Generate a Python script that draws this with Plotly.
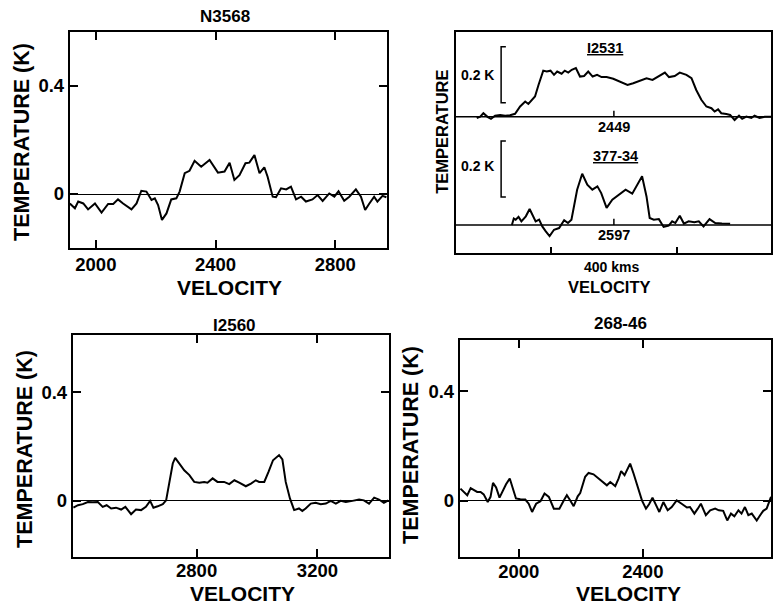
import plotly.graph_objects as go

FONT = "Liberation Sans"

# ---------------- data ----------------
# Panel N3568
n3568_v = [1913, 1930, 1941, 1958, 1974, 1997, 2019, 2041, 2058, 2074, 2091, 2119, 2136, 2152,
           2169, 2186, 2197, 2208, 2221, 2236, 2252, 2269, 2280, 2297, 2313, 2330, 2352, 2380,
           2408, 2430, 2447, 2463, 2480, 2500, 2513, 2530, 2547, 2563, 2574, 2591, 2602, 2619,
           2636, 2652, 2669, 2686, 2702, 2724, 2741, 2758, 2780, 2797, 2811, 2830, 2847, 2869,
           2886, 2900, 2913, 2930, 2941, 2958, 2971]
n3568_t = [-0.035, -0.053, -0.028, -0.035, -0.057, -0.035, -0.069, -0.037, -0.037, -0.020,
           -0.035, -0.057, -0.035, 0.012, 0.009, -0.022, -0.016, -0.041, -0.096, -0.072,
           -0.020, -0.016, 0.009, 0.077, 0.086, 0.123, 0.101, 0.126, 0.079, 0.083, 0.116,
           0.052, 0.070, 0.114, 0.116, 0.144, 0.077, 0.099, 0.064, -0.010, -0.012, 0.021,
           0.017, 0.027, -0.020, -0.010, -0.028, -0.020, -0.004, -0.026, 0.002, -0.010,
           0.010, -0.025, -0.010, 0.017, -0.010, -0.059, -0.037, -0.010, -0.028, -0.007, -0.012]

# Panel I2531 (systemic 2449)
i2531_vsys = 2449
i2531_v = [2016, 2027, 2037, 2050, 2061, 2074, 2090, 2106, 2121, 2137, 2153, 2169, 2179, 2190,
           2200, 2211, 2226, 2237, 2249, 2260, 2270, 2284, 2294, 2305, 2316, 2329, 2342, 2355,
           2368, 2382, 2396, 2410, 2426, 2447, 2468, 2492, 2510, 2526, 2552, 2571, 2589, 2610,
           2623, 2641, 2657, 2678, 2694, 2709, 2725, 2741, 2757, 2767, 2778, 2788, 2804, 2816,
           2830, 2844, 2854, 2867, 2883, 2893, 2909, 2925, 2949]
i2531_t = [-0.004, 0.001, 0.013, 0.000, -0.007, 0.004, 0.007, 0.004, 0.006, 0.011, 0.037,
           0.055, 0.046, 0.061, 0.073, 0.114, 0.165, 0.162, 0.165, 0.150, 0.162, 0.154, 0.165,
           0.158, 0.168, 0.174, 0.144, 0.146, 0.162, 0.144, 0.150, 0.142, 0.142, 0.136, 0.126,
           0.114, 0.120, 0.126, 0.138, 0.132, 0.144, 0.158, 0.142, 0.146, 0.158, 0.150, 0.138,
           0.096, 0.061, 0.037, 0.031, 0.019, 0.027, 0.013, 0.010, 0.007, -0.011, 0.004, -0.007,
           0.001, -0.004, 0.004, -0.004, 0.000, 0.000]

# Panel 377-34 (systemic 2597)
e377_vsys = 2597
e377_v = [2275, 2281, 2287, 2296, 2305, 2319, 2331, 2342, 2350, 2361, 2371, 2382, 2394, 2408,
          2424, 2440, 2452, 2463, 2481, 2497, 2513, 2529, 2545, 2557, 2574, 2592, 2613, 2634,
          2655, 2670, 2686, 2700, 2710, 2723, 2739, 2754, 2770, 2781, 2791, 2805, 2818, 2833,
          2851, 2865, 2880, 2899, 2917, 2938, 2964]
e377_t = [0.000, 0.023, 0.019, 0.029, 0.013, 0.031, 0.057, 0.031, 0.013, 0.019, -0.005, -0.023,
          -0.040, -0.017, -0.011, 0.017, 0.007, 0.019, 0.126, 0.183, 0.144, 0.126, 0.138, 0.114,
          0.061, 0.090, 0.108, 0.126, 0.112, 0.144, 0.174, 0.102, 0.025, 0.019, 0.021, -0.007,
          -0.002, 0.013, 0.007, 0.033, 0.005, 0.013, 0.010, 0.013, -0.005, 0.021, 0.007, 0.005,
          0.004]

# Panel I2560
i2560_v = [2392, 2407, 2423, 2440, 2456, 2473, 2489, 2502, 2517, 2533, 2550, 2564, 2583, 2599,
           2616, 2632, 2646, 2657, 2671, 2688, 2699, 2710, 2721, 2729, 2743, 2759, 2776, 2792,
           2809, 2825, 2836, 2853, 2869, 2891, 2908, 2925, 2941, 2963, 2980, 2996, 3007, 3024,
           3038, 3053, 3073, 3084, 3095, 3109, 3123, 3139, 3150, 3161, 3178, 3194, 3211, 3228,
           3244, 3261, 3277, 3294, 3316, 3338, 3354, 3371, 3388, 3404, 3420, 3435]
i2560_t = [-0.025, -0.016, -0.012, -0.004, -0.005, -0.004, -0.022, -0.016, -0.028, -0.025,
           -0.032, -0.022, -0.049, -0.032, -0.034, -0.022, 0.000, -0.025, -0.020, -0.012,
           0.002, 0.070, 0.138, 0.159, 0.138, 0.113, 0.095, 0.070, 0.067, 0.070, 0.067, 0.083,
           0.070, 0.070, 0.062, 0.076, 0.067, 0.054, 0.064, 0.076, 0.070, 0.070, 0.107, 0.150,
           0.169, 0.153, 0.070, 0.009, -0.034, -0.028, -0.037, -0.028, -0.010, -0.007, -0.012,
           -0.010, 0.000, -0.010, 0.000, -0.004, 0.000, 0.005, 0.002, -0.010, 0.012, 0.005,
           -0.007, 0.002]

# Panel 268-46
e268_v = [1812, 1823, 1834, 1845, 1855, 1866, 1877, 1887, 1900, 1909, 1917, 1927, 1938, 1949,
          1959, 1971, 1984, 1991, 2005, 2021, 2032, 2043, 2056, 2070, 2083, 2097, 2113, 2131,
          2145, 2155, 2166, 2177, 2190, 2198, 2214, 2225, 2241, 2257, 2273, 2284, 2295, 2311,
          2322, 2330, 2341, 2349, 2359, 2370, 2384, 2397, 2410, 2420, 2431, 2442, 2453, 2466,
          2480, 2493, 2509, 2525, 2542, 2552, 2566, 2577, 2587, 2603, 2617, 2633, 2645, 2659,
          2672, 2684, 2695, 2708, 2718, 2729, 2740, 2751, 2767, 2778, 2788, 2799, 2813]
e268_t = [0.045, 0.033, 0.021, 0.047, 0.041, 0.033, 0.033, 0.024, -0.004, 0.015, 0.066, 0.049,
          0.012, 0.039, 0.061, 0.082, 0.039, 0.009, 0.006, 0.005, -0.010, -0.040, -0.010,
          -0.001, 0.027, 0.015, -0.028, -0.028, 0.002, 0.021, 0.002, -0.019, 0.017, 0.029,
          0.088, 0.102, 0.097, 0.082, 0.066, 0.057, 0.069, 0.054, 0.082, 0.109, 0.094, 0.114,
          0.136, 0.100, 0.051, 0.002, -0.028, -0.012, 0.012, -0.016, -0.040, -0.004, -0.034,
          -0.022, 0.002, -0.010, -0.024, -0.022, -0.046, -0.028, -0.010, -0.052, -0.034,
          -0.028, -0.034, -0.036, -0.071, -0.046, -0.056, -0.034, -0.046, -0.022, -0.052,
          -0.046, -0.071, -0.052, -0.036, -0.028, 0.015]

# tick labels
p1_xticks = [2000, 2400, 2800]
p3_xticks = [2800, 3200]
p4_xticks = [2000, 2400]
y_ticks = [0, 0.4]
y_ticktext = ["0", "0.4"]
p2_ticks = [-200, 200]          # 400 km/s apart
p2_offset = 0.386               # vertical offset of the upper spectrum (K)

W, H = 773, 604


def px_x(a, b):
    return [a / W, b / W]


def px_y(top, bottom):
    return [1 - bottom / H, 1 - top / H]


def axis(**kw):
    d = dict(showline=True, linecolor="black", linewidth=2, mirror="allticks",
             ticks="inside", ticklen=8, tickwidth=1.5, tickcolor="black",
             showgrid=False, zeroline=False, fixedrange=True,
             tickfont=dict(family=FONT, size=18.5, color="black", weight="bold"))
    d.update(kw)
    return d


LINE = dict(color="black", width=2)

fig = go.Figure()
fig.add_trace(go.Scatter(x=n3568_v, y=n3568_t, mode="lines", line=LINE,
                         xaxis="x", yaxis="y", showlegend=False))
fig.add_trace(go.Scatter(x=[v - i2531_vsys for v in i2531_v],
                         y=[t + p2_offset for t in i2531_t], mode="lines", line=LINE,
                         xaxis="x2", yaxis="y2", showlegend=False))
fig.add_trace(go.Scatter(x=[v - e377_vsys for v in e377_v], y=e377_t, mode="lines",
                         line=LINE, xaxis="x2", yaxis="y2", showlegend=False))
fig.add_trace(go.Scatter(x=i2560_v, y=i2560_t, mode="lines", line=LINE,
                         xaxis="x3", yaxis="y3", showlegend=False))
fig.add_trace(go.Scatter(x=e268_v, y=e268_t, mode="lines", line=LINE,
                         xaxis="x4", yaxis="y4", showlegend=False))

zl = dict(zeroline=True, zerolinecolor="black", zerolinewidth=1.2)

fig.update_layout(
    width=W, height=H, margin=dict(l=0, r=0, t=0, b=0),
    paper_bgcolor="white", plot_bgcolor="white",
    xaxis=axis(domain=px_x(70, 388), range=[1913, 2973], tickvals=p1_xticks,
               anchor="y", ticklabelstandoff=-1),
    yaxis=axis(domain=px_y(32, 248), range=[-0.2, 0.6], tickvals=y_ticks,
               ticktext=y_ticktext, anchor="x", **zl),
    xaxis2=axis(domain=px_x(457, 773), range=[-499, 496], tickvals=p2_ticks,
                showticklabels=False, mirror=True, ticklen=6, anchor="y2"),
    yaxis2=axis(domain=px_y(32, 253), range=[-0.1, 0.689], ticks="",
                showticklabels=False, mirror=True, anchor="x2"),
    xaxis3=axis(domain=px_x(73, 390), range=[2390, 3437], tickvals=p3_xticks,
                anchor="y3", ticklabelstandoff=-4),
    yaxis3=axis(domain=px_y(335, 557), range=[-0.207, 0.612], tickvals=y_ticks,
                ticktext=y_ticktext, anchor="x3", **zl),
    xaxis4=axis(domain=px_x(461, 773), range=[1810, 2813], tickvals=p4_xticks,
                anchor="y4", ticklabelstandoff=-3),
    yaxis4=axis(domain=px_y(340, 557), range=[-0.204, 0.586], tickvals=y_ticks,
                ticktext=y_ticktext, anchor="x4", **zl),
)

# panel 2 decorations: baselines, centre ticks, scale bars
shapes = []
for base in (0, p2_offset):
    shapes.append(dict(type="line", xref="x2 domain", yref="y2", x0=0, x1=1,
                       y0=base, y1=base, line=dict(color="black", width=1.5)))
    shapes.append(dict(type="line", xref="x2", yref="y2", x0=0, x1=0,
                       y0=base, y1=base + 0.022, line=dict(color="black", width=1.5)))
for y0, y1 in ((p2_offset + 0.05, p2_offset + 0.25), (0.10, 0.30)):
    xs, s = -356, 15
    shapes.append(dict(type="path", xref="x2", yref="y2",
                       path=f"M {xs + s},{y0} L {xs},{y0} L {xs},{y1} L {xs + s},{y1}",
                       line=dict(color="black", width=1.5)))
fig.update_layout(shapes=shapes)


def bold(size):
    return dict(family=FONT, size=size, color="black", weight="bold")


ann = []


def pa(text, x, y, size, angle=0):
    ann.append(dict(text=text, x=x / W, y=1 - y / H, xref="paper", yref="paper",
                    showarrow=False, textangle=angle, font=bold(size),
                    xanchor="center", yanchor="middle"))


# panel titles
pa("N3568", 226, 17, 17)
pa("I2560", 235, 325, 17)
pa("268-46", 622, 323, 17)
# axis titles
pa("VELOCITY", 230, 287, 21)
pa("VELOCITY", 243, 593, 21)
pa("VELOCITY", 630, 593, 21)
pa("VELOCITY", 611, 287, 16.5)
pa("TEMPERATURE (K)", 22, 142, 21.5, -90)
pa("TEMPERATURE (K)", 25, 449, 21.5, -90)
pa("TEMPERATURE (K)", 412, 445, 21.5, -90)
pa("TEMPERATURE", 443, 132, 16.5, -90)
pa("400 kms", 613, 267, 14)


def da(text, x, y, size):
    ann.append(dict(text=text, x=x, y=y, xref="x2", yref="y2", showarrow=False,
                    font=bold(size), xanchor="center", yanchor="middle"))


da("<u>I2531</u>", -27, 0.632, 14.5)
da("<u>377-34</u>", 5, 0.246, 14.5)
da("2449", 0, p2_offset - 0.036, 14.5)
da("2597", 0, -0.036, 14.5)
da("0.2 K", -430, 0.536, 14)
da("0.2 K", -430, 0.211, 14)

fig.update_layout(annotations=ann)
fig.write_html("out.html")
